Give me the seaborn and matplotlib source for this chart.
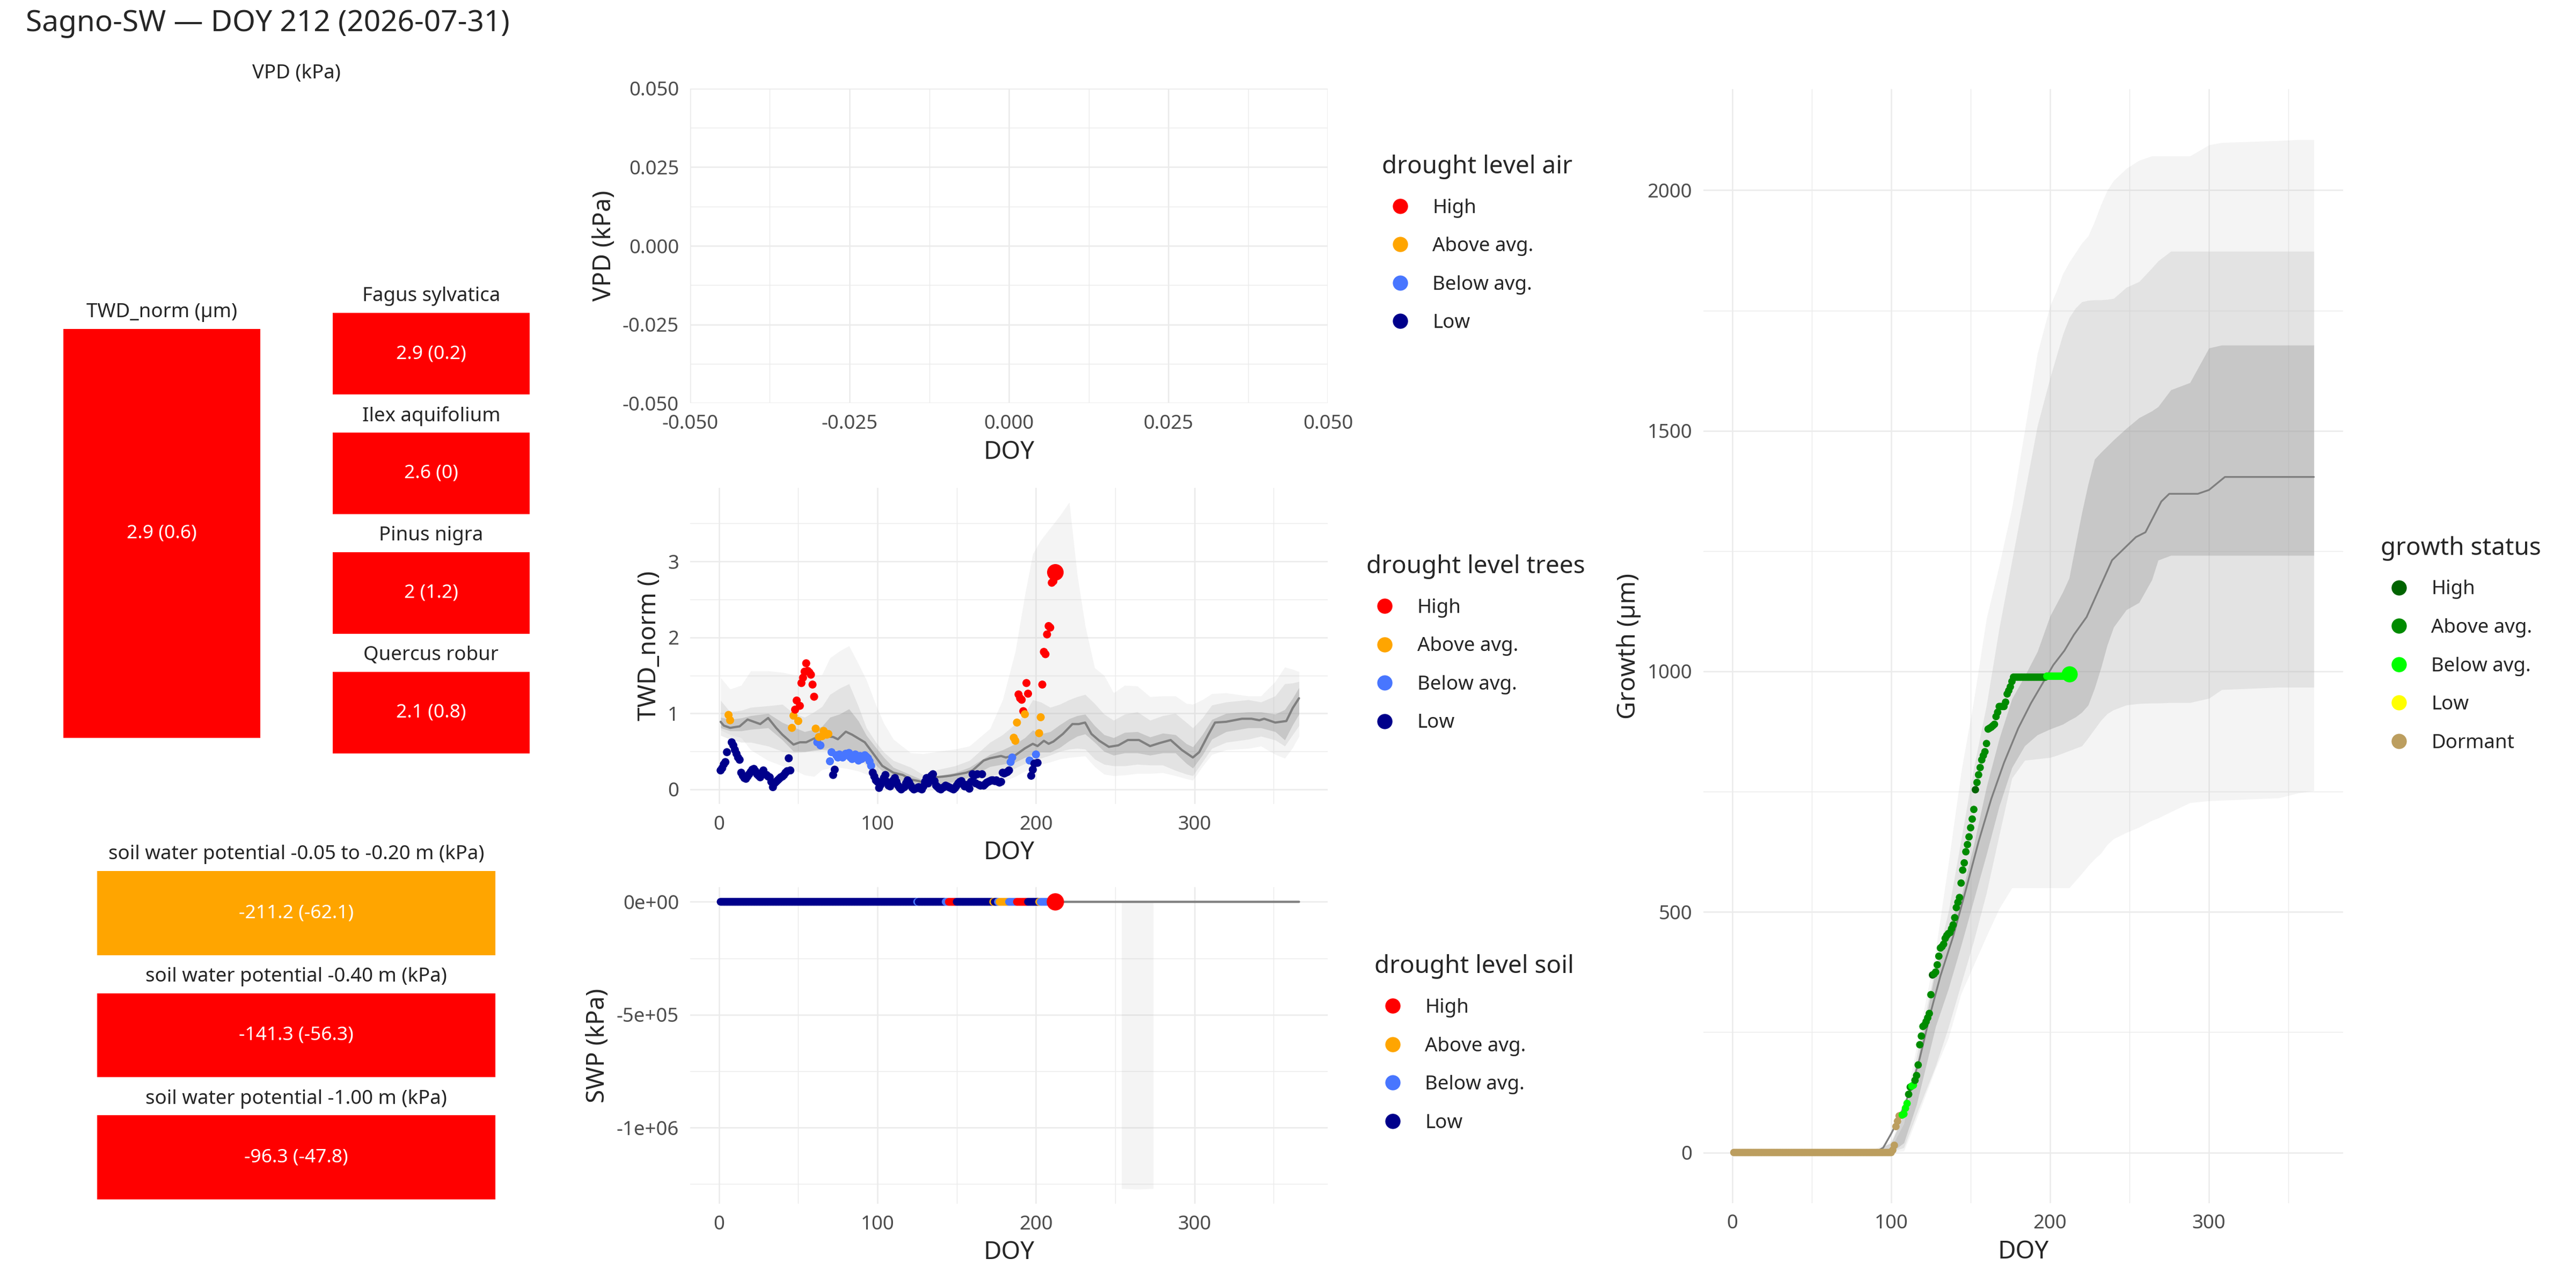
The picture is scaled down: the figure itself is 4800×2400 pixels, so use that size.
import matplotlib
matplotlib.use("Agg")
import matplotlib.pyplot as plt
from matplotlib.lines import Line2D
import seaborn as sns
import pandas as pd

sns.set_theme(style="white")
plt.rcParams['font.family'] = ['Noto Sans', 'DejaVu Sans']

# ---- data ----
title = "Sagno-SW \u2014 DOY 212 (2026-07-31)"

drought_levels = ["High", "Above avg.", "Below avg.", "Low"]
drought_colors = ["#FF0000", "#FFA500", "#4876FF", "#00008B"]
growth_levels = ["High", "Above avg.", "Below avg.", "Low", "Dormant"]
growth_colors = ["#006400", "#008B00", "#00FF00", "#FFFF00", "#BC9E5F"]
code = {"H": "High", "A": "Above avg.", "B": "Below avg.", "L": "Low", "D": "Dormant"}

# summary tiles
twd_now, twd_now_sd, twd_now_level = 2.9, 0.6, "High"
species = ["Fagus sylvatica", "Ilex aquifolium", "Pinus nigra", "Quercus robur"]
species_twd = [2.9, 2.6, 2.0, 2.1]
species_sd = [0.2, 0.0, 1.2, 0.8]
species_level = ["High", "High", "High", "High"]
soil_labels = ["soil water potential -0.05 to -0.20 m (kPa)",
               "soil water potential -0.40 m (kPa)",
               "soil water potential -1.00 m (kPa)"]
soil_vals = [-211.2, -141.3, -96.3]
soil_sd = [-62.1, -56.3, -47.8]
soil_level = ["Above avg.", "High", "High"]

# TWD_norm daily values, DOY 1..212
twd_vals = [
    0.25, 0.28, 0.33, 0.36, 0.49, 0.98, 0.91, 0.62, 0.58, 0.52,
    0.47, 0.42, 0.39, 0.22, 0.18, 0.15, 0.14, 0.17, 0.20, 0.23,
    0.26, 0.27, 0.24, 0.20, 0.18, 0.16, 0.22, 0.25, 0.20, 0.19,
    0.17, 0.16, 0.10, 0.03, 0.08, 0.10, 0.12, 0.14, 0.16, 0.17,
    0.19, 0.22, 0.24, 0.41, 0.25, 0.81, 0.97, 1.05, 1.17, 0.90,
    1.10, 1.40, 1.47, 1.55, 1.66, 1.56, 1.54, 1.51, 1.38, 1.22,
    0.80, 0.62, 0.69, 0.58, 0.70, 0.77, 0.74, 0.72, 0.73, 0.37,
    0.49, 0.19, 0.26, 0.45, 0.42, 0.46, 0.44, 0.42, 0.45, 0.47,
    0.45, 0.48, 0.42, 0.40, 0.44, 0.46, 0.43, 0.38, 0.44, 0.40,
    0.42, 0.45, 0.43, 0.41, 0.37, 0.31, 0.22, 0.17, 0.12, 0.10,
    0.02, 0.06, 0.10, 0.15, 0.19, 0.10, 0.05, 0.04, 0.08, 0.12,
    0.15, 0.10, 0.05, 0.02, 0.00, 0.02, 0.03, 0.08, 0.12, 0.09,
    0.05, 0.02, 0.00, 0.01, 0.02, 0.03, 0.01, 0.00, 0.04, 0.10,
    0.15, 0.08, 0.14, 0.18, 0.20, 0.11, 0.05, 0.03, 0.01, 0.00,
    0.02, 0.03, 0.05, 0.04, 0.03, 0.02, 0.01, 0.00, 0.02, 0.05,
    0.08, 0.10, 0.11, 0.07, 0.04, 0.06, 0.03, 0.01, 0.10, 0.20,
    0.18, 0.08, 0.20, 0.06, 0.05, 0.20, 0.05, 0.07, 0.09, 0.10,
    0.11, 0.12, 0.12, 0.11, 0.12, 0.10, 0.09, 0.10, 0.22, 0.21,
    0.22, 0.23, 0.25, 0.36, 0.42, 0.68, 0.64, 0.88, 1.25, 1.20,
    1.18, 1.03, 0.99, 1.40, 1.26, 0.38, 0.18, 0.26, 0.34, 0.46,
    0.35, 0.74, 0.95, 1.38, 1.81, 1.78, 2.04, 2.15, 2.13, 2.72,
    2.74, 2.86]
twd_level_runs = [("L", 5), ("A", 2), ("L", 38), ("A", 2), ("H", 2), ("A", 1),
                  ("H", 10), ("A", 1), ("B", 1), ("A", 1), ("B", 1), ("A", 5),
                  ("B", 2), ("L", 2), ("B", 23), ("L", 87), ("B", 2), ("A", 3),
                  ("H", 4), ("A", 1), ("H", 2), ("B", 1), ("L", 3), ("B", 1),
                  ("L", 1), ("A", 2), ("H", 9)]

# TWD climatology: median and quantile bands
twd_med_doy = [1, 3, 7, 13, 18, 22, 26, 31, 36, 40, 47, 51, 55, 60, 64, 72, 75, 80,
               84, 92, 97, 103, 110, 116, 121, 126, 129, 133, 137, 142, 146, 151,
               156, 160, 167, 171, 178, 181, 187, 193, 198, 201, 205, 208, 211,
               217, 223, 227, 231, 235, 240, 246, 252, 258, 265, 272, 278, 285,
               292, 299, 303, 309, 313, 320, 330, 336, 341, 344, 351, 358, 362, 366]
twd_med = [0.89, 0.84, 0.81, 0.83, 0.92, 0.89, 0.86, 0.94, 0.81, 0.72, 0.59, 0.62,
           0.62, 0.67, 0.70, 0.69, 0.66, 0.76, 0.72, 0.62, 0.48, 0.31, 0.22, 0.19,
           0.13, 0.11, 0.09, 0.12, 0.16, 0.17, 0.18, 0.20, 0.22, 0.25, 0.38, 0.41,
           0.44, 0.42, 0.45, 0.54, 0.60, 0.57, 0.64, 0.60, 0.63, 0.73, 0.86, 0.86,
           0.88, 0.73, 0.64, 0.56, 0.58, 0.65, 0.65, 0.57, 0.61, 0.65, 0.52, 0.42,
           0.49, 0.73, 0.88, 0.89, 0.93, 0.93, 0.91, 0.93, 0.88, 0.90, 1.07, 1.20]
twd_rib_doy = [1, 7, 14, 20, 31, 40, 47, 54, 60, 65, 70, 76, 82, 88, 93, 99, 104, 110,
               121, 129, 138, 149, 158, 171, 179, 187, 193, 198, 203, 209, 215, 221,
               226, 231, 237, 243, 249, 256, 264, 272, 280, 288, 295, 299, 305, 311,
               320, 334, 342, 351, 357, 362, 366]
twd_outer_hi = [1.47, 1.32, 1.37, 1.56, 1.56, 1.54, 1.51, 1.50, 1.50, 1.51, 1.73, 1.82,
                1.89, 1.65, 1.44, 1.11, 0.87, 0.66, 0.48, 0.47, 0.50, 0.53, 0.57, 0.80,
                1.18, 1.82, 2.56, 3.10, 3.28, 3.44, 3.60, 3.78, 2.83, 2.16, 1.60, 1.50,
                1.27, 1.37, 1.36, 1.22, 1.23, 1.23, 1.13, 1.12, 1.18, 1.26, 1.27, 1.23,
                1.23, 1.42, 1.61, 1.58, 1.55]
twd_outer_lo = [0.78, 0.72, 0.68, 0.52, 0.38, 0.31, 0.26, 0.19, 0.17, 0.26, 0.28, 0.29,
                0.27, 0.24, 0.20, 0.15, 0.05, 0.00, 0.00, 0.00, 0.00, 0.00, 0.00, 0.06,
                0.10, 0.17, 0.24, 0.30, 0.33, 0.36, 0.40, 0.42, 0.43, 0.44, 0.30, 0.20,
                0.18, 0.19, 0.21, 0.21, 0.22, 0.18, 0.14, 0.12, 0.30, 0.46, 0.52, 0.54,
                0.57, 0.46, 0.41, 0.55, 0.70]
twd_mid_hi = [1.17, 1.02, 1.04, 1.08, 1.10, 1.12, 1.00, 0.95, 1.02, 1.09, 1.25, 1.33,
              1.39, 1.09, 0.81, 0.62, 0.49, 0.38, 0.29, 0.19, 0.26, 0.31, 0.38, 0.62,
              0.72, 0.86, 1.00, 1.18, 1.15, 1.08, 1.12, 1.18, 1.22, 1.25, 1.13, 0.99,
              0.91, 0.99, 1.02, 0.91, 0.97, 1.00, 0.88, 0.81, 0.94, 1.11, 1.15, 1.18,
              1.15, 1.23, 1.39, 1.40, 1.42]
twd_mid_lo = [0.71, 0.66, 0.62, 0.62, 0.57, 0.50, 0.48, 0.49, 0.52, 0.53, 0.55, 0.50,
              0.47, 0.43, 0.31, 0.19, 0.15, 0.10, 0.05, 0.02, 0.03, 0.05, 0.11, 0.17,
              0.22, 0.28, 0.34, 0.38, 0.41, 0.45, 0.50, 0.53, 0.54, 0.53, 0.40, 0.33,
              0.31, 0.31, 0.33, 0.32, 0.32, 0.25, 0.20, 0.18, 0.36, 0.54, 0.62, 0.66,
              0.70, 0.65, 0.57, 0.72, 0.84]
twd_in_hi = [0.95, 0.92, 0.94, 0.97, 1.00, 0.88, 0.82, 0.76, 0.79, 0.83, 0.95, 0.99,
             1.06, 0.90, 0.71, 0.55, 0.42, 0.29, 0.19, 0.12, 0.18, 0.22, 0.29, 0.46,
             0.52, 0.60, 0.68, 0.78, 0.73, 0.76, 0.85, 0.93, 0.97, 0.99, 0.84, 0.72,
             0.68, 0.75, 0.76, 0.69, 0.74, 0.72, 0.60, 0.56, 0.72, 0.92, 1.00, 1.02,
             1.02, 0.99, 1.05, 1.20, 1.34]
twd_in_lo = [0.81, 0.77, 0.77, 0.79, 0.81, 0.65, 0.50, 0.50, 0.51, 0.52, 0.51, 0.50,
             0.50, 0.49, 0.44, 0.32, 0.22, 0.15, 0.08, 0.04, 0.07, 0.10, 0.16, 0.30,
             0.33, 0.36, 0.42, 0.46, 0.49, 0.49, 0.55, 0.64, 0.70, 0.73, 0.62, 0.50,
             0.45, 0.48, 0.48, 0.45, 0.48, 0.48, 0.34, 0.28, 0.45, 0.66, 0.76, 0.81,
             0.81, 0.76, 0.65, 0.85, 0.99]

# soil water potential (kPa): level runs over DOY 1..212 with a value per run
swp_runs = [(1, 124, "L"), (125, 125, "B"), (126, 142, "L"), (143, 144, "B"),
            (145, 149, "H"), (150, 172, "L"), (173, 173, "A"), (174, 175, "L"),
            (176, 176, "B"), (177, 182, "A"), (183, 187, "B"), (188, 194, "H"),
            (195, 201, "L"), (202, 202, "A"), (203, 211, "B"), (212, 212, "H")]
swp_run_vals = [-35, -60, -48, -95, -180, -70, -130, -85, -110, -140, -120, -200,
                -90, -150, -125, -211.2]
swp_med_doy = [1, 60, 120, 180, 240, 300, 366]
swp_med = [-40, -35, -50, -120, -150, -90, -45]
swp_rib_doy = [254, 264, 274]
swp_rib_lo = [-1270000, -1273000, -1270000]
swp_rib_hi = [-300, -300, -300]

# growth (um)
growth_flat_runs = [(1, 100, 0, "D"), (178, 197, 988, "A"), (198, 211, 990, "B")]
growth_rise_start = 101
growth_rise = [5, 15, 54, 65, 76, 77, 78, 80, 92, 102,
               121, 136, 138, 140, 150, 160, 182, 224, 242, 262,
               265, 272, 280, 289, 328, 369, 371, 375, 390, 408,
               425, 428, 433, 445, 451, 455, 457, 465, 473, 488,
               509, 520, 530, 560, 587, 602, 625, 640, 656, 675,
               693, 713, 754, 769, 785, 800, 816, 825, 833, 850,
               880, 882, 884, 887, 890, 906, 915, 927, 927, 927,
               927, 936, 953, 960, 968, 979, 988]
growth_rise_runs = [("D", 6), ("B", 4), ("A", 2), ("B", 2), ("A", 11), ("H", 1),
                    ("A", 26), ("H", 1), ("A", 24)]
growth_now = (212, 994, "B")
g_med_doy = [1, 90, 95, 100, 105, 112, 118, 125, 131, 139, 147, 155, 163, 171, 180,
             188, 196, 202, 209, 215, 223, 228, 239, 254, 260, 270, 275, 293, 300,
             310, 366]
g_med = [0, 0, 10, 39, 72, 128, 196, 293, 367, 449, 546, 646, 735, 810, 882, 934,
         979, 1013, 1043, 1076, 1113, 1150, 1231, 1279, 1289, 1353, 1369, 1369, 1377,
         1404, 1404]
g_rib_doy = [1, 90, 100, 108, 116, 128, 136, 144, 152, 160, 168, 176, 184, 192, 200,
             204, 208, 212, 216, 220, 224, 228, 232, 236, 240, 248, 256, 264, 268, 276,
             288, 300, 308, 344, 356, 366]
g_outer_hi = [0, 8, 25, 90, 220, 420, 600, 790, 940, 1110, 1220, 1340, 1500, 1660,
              1760, 1790, 1826, 1850, 1870, 1890, 1905, 1935, 1970, 2000, 2020, 2045,
              2062, 2071, 2071, 2071, 2071, 2094, 2099, 2103, 2105, 2105]
g_outer_lo = [0, 0, 0, 3, 70, 175, 238, 330, 390, 450, 507, 550, 550, 550, 550, 550,
              550, 550, 565, 580, 596, 610, 622, 640, 652, 665, 676, 690, 695, 708,
              727, 731, 732, 737, 747, 752]
g_mid_hi = [0, 3, 10, 60, 200, 390, 500, 650, 800, 930, 1090, 1230, 1370, 1510, 1610,
            1655, 1700, 1735, 1755, 1768, 1771, 1772, 1772, 1773, 1775, 1798, 1810,
            1838, 1853, 1873, 1873, 1873, 1873, 1873, 1873, 1873]
g_mid_lo = [0, 0, 2, 10, 80, 180, 260, 350, 440, 540, 660, 778, 815, 818, 821, 825,
            830, 835, 840, 845, 862, 880, 898, 912, 920, 930, 933, 934, 934, 935, 935,
            944, 962, 967, 967, 967]
g_in_hi = [0, 5, 20, 80, 180, 380, 470, 530, 640, 760, 860, 943, 990, 1041, 1115,
           1140, 1165, 1194, 1263, 1330, 1390, 1441, 1455, 1468, 1481, 1505, 1527,
           1541, 1550, 1585, 1600, 1672, 1678, 1678, 1678, 1678]
g_in_lo = [0, 0, 0, 20, 100, 262, 340, 430, 525, 620, 720, 800, 845, 868, 880, 885,
           890, 898, 905, 915, 930, 965, 1007, 1055, 1092, 1128, 1143, 1190, 1231,
           1241, 1241, 1241, 1241, 1241, 1241, 1241]


def expand(runs):
    out = []
    for c, n in runs:
        out += [code[c]] * n
    return out


def fmt(v):
    return f"{v:g}"


twd = pd.DataFrame({"doy": range(1, len(twd_vals) + 1), "twd": twd_vals,
                    "level": expand(twd_level_runs)})

swp_rows = []
for (a, b, c), v in zip(swp_runs, swp_run_vals):
    for d in range(a, b + 1):
        swp_rows.append((d, v, code[c]))
swp = pd.DataFrame(swp_rows, columns=["doy", "swp", "level"])

g_rows = []
for a, b, v, c in growth_flat_runs:
    for d in range(a, b + 1):
        g_rows.append((d, v, code[c]))
for i, (v, c) in enumerate(zip(growth_rise, expand(growth_rise_runs))):
    g_rows.append((growth_rise_start + i, v, c))
g_rows.append((growth_now[0], growth_now[1], code[growth_now[2]]))
growth = pd.DataFrame(g_rows, columns=["doy", "growth", "level"]).sort_values("doy")

dpal = dict(zip(drought_levels, drought_colors))
gpal = dict(zip(growth_levels, growth_colors))

# ---- figure ----
fig = plt.figure(figsize=(16, 8), dpi=300)
fig.patch.set_facecolor("white")
GRID = "#EBEBEB"
XLIM = (-18.25, 384.25)


def style(ax, xlim, ylim, xt, xm, yt, ym, xlabel, ylabel, ytl=None, xtl=None):
    ax.set_facecolor("white")
    ax.set_xlim(xlim)
    ax.set_ylim(ylim)
    ax.set_xticks(xt)
    ax.set_xticks(xm, minor=True)
    ax.set_yticks(yt)
    ax.set_yticks(ym, minor=True)
    if ytl is not None:
        ax.set_yticklabels(ytl)
    if xtl is not None:
        ax.set_xticklabels(xtl)
    ax.grid(which="major", color=GRID, lw=0.6)
    ax.grid(which="minor", color=GRID, lw=0.35)
    ax.set_axisbelow(True)
    for s in ax.spines.values():
        s.set_visible(False)
    ax.tick_params(which="both", length=0, pad=5, labelsize=8.8, labelcolor="#4D4D4D")
    ax.set_xlabel(xlabel, fontsize=11, labelpad=2.75)
    ax.set_ylabel(ylabel, fontsize=11, labelpad=2.75)


def legend(title_txt, levels, colors, x, y):
    handles = [Line2D([], [], marker="o", ls="", color=c, markersize=5.8) for c in colors]
    fig.legend(handles, levels, title=title_txt, loc="upper left",
               bbox_to_anchor=(x, y), bbox_transform=fig.transFigure, frameon=False,
               fontsize=8.8, title_fontsize=11, alignment="left", handlelength=1.85,
               handletextpad=0.72, labelspacing=0.97, borderpad=0, borderaxespad=0)


def bands(ax, x, lo1, hi1, lo2, hi2, lo3, hi3):
    ax.fill_between(x, lo1, hi1, color="#BEBEBE", alpha=0.17, lw=0, zorder=1)
    ax.fill_between(x, lo2, hi2, color="#BEBEBE", alpha=0.30, lw=0, zorder=1.1)
    ax.fill_between(x, lo3, hi3, color="#808080", alpha=0.28, lw=0, zorder=1.2)


# ---- summary tiles ----
fig.text(0.0099, 0.982, title, fontsize=13.2, ha="left", va="center")
fig.text(0.115, 0.9429, "VPD (kPa)", fontsize=8.8, ha="center", va="center")


def tile(rect, label, text, level):
    ax = fig.add_axes(rect)
    ax.bar([0], [1], width=1.0, color=dpal[level], lw=0)
    ax.set_xlim(-0.5, 0.5)
    ax.set_ylim(0, 1)
    ax.axis("off")
    ax.text(0, 0.5, text, color="white", fontsize=8.5, ha="center", va="center")
    x0, y0, w, h = rect
    fig.text(x0 + w / 2, y0 + h + 0.0128, label, fontsize=8.8, ha="center", va="center")


tile([0.02455, 0.4271, 0.07655, 0.3175], "TWD_norm (\u00b5m)",
     f"{fmt(twd_now)} ({fmt(twd_now_sd)})", twd_now_level)
sp_bottoms = [0.6937, 0.6009, 0.5080, 0.4151]
for name, v, sd, lv, b in zip(species, species_twd, species_sd, species_level, sp_bottoms):
    tile([0.1291, b, 0.07655, 0.0633], name, f"{fmt(v)} ({fmt(sd)})", lv)
soil_bottoms = [0.2585, 0.1637, 0.0688]
for name, v, sd, lv, b in zip(soil_labels, soil_vals, soil_sd, soil_level, soil_bottoms):
    tile([0.0377, b, 0.1546, 0.0652], name, f"{fmt(v)} ({fmt(sd)})", lv)

# ---- VPD panel (no data) ----
ax_vpd = fig.add_axes([0.2679, 0.6869, 0.2476, 0.2445])
vt = [-0.05, -0.025, 0.0, 0.025, 0.05]
vm = [-0.0375, -0.0125, 0.0125, 0.0375]
vtl = ["-0.050", "-0.025", "0.000", "0.025", "0.050"]
style(ax_vpd, (-0.05, 0.05), (-0.05, 0.05), vt, vm, vt, vm, "DOY", "VPD (kPa)",
      ytl=vtl, xtl=vtl)
legend("drought level air", drought_levels, drought_colors, 0.5365, 0.8800)

doy_major = [0, 100, 200, 300]
doy_minor = [50, 150, 250, 350]

# ---- TWD panel ----
ax_twd = fig.add_axes([0.2679, 0.3759, 0.2476, 0.2454])
bands(ax_twd, twd_rib_doy, twd_outer_lo, twd_outer_hi, twd_mid_lo, twd_mid_hi,
      twd_in_lo, twd_in_hi)
sns.lineplot(x=twd_med_doy, y=twd_med, color="#7F7F7F", lw=1.0, ax=ax_twd, zorder=2)
sns.scatterplot(data=twd, x="doy", y="twd", hue="level", palette=dpal,
                hue_order=drought_levels, s=13, linewidth=0, legend=False,
                ax=ax_twd, zorder=3)
last = twd.iloc[-1]
ax_twd.scatter([last["doy"]], [last["twd"]], s=55, color=dpal[last["level"]],
               linewidth=0, zorder=4)
style(ax_twd, XLIM, (-0.19, 3.97), doy_major, doy_minor, [0, 1, 2, 3],
      [0.5, 1.5, 2.5, 3.5], "DOY", "TWD_norm ()")
legend("drought level trees", drought_levels, drought_colors, 0.5305, 0.5695)

# ---- SWP panel ----
ax_swp = fig.add_axes([0.2679, 0.06546, 0.2476, 0.2456])
ax_swp.fill_between(swp_rib_doy, swp_rib_lo, swp_rib_hi, color="#BEBEBE", alpha=0.17,
                    lw=0, zorder=1)
sns.lineplot(x=swp_med_doy, y=swp_med, color="#7F7F7F", lw=1.0, ax=ax_swp, zorder=2)
sns.scatterplot(data=swp, x="doy", y="swp", hue="level", palette=dpal,
                hue_order=drought_levels, s=12, linewidth=0, legend=False,
                ax=ax_swp, zorder=3)
last = swp.iloc[-1]
ax_swp.scatter([last["doy"]], [last["swp"]], s=60, color=dpal[last["level"]],
               linewidth=0, zorder=4)
style(ax_swp, XLIM, (-1337000, 64000), doy_major, doy_minor, [0, -500000, -1000000],
      [-250000, -750000, -1250000], "DOY", "SWP (kPa)",
      ytl=["0e+00", "-5e+05", "-1e+06"])
legend("drought level soil", drought_levels, drought_colors, 0.5335, 0.2590)

# ---- growth panel ----
ax_g = fig.add_axes([0.6612, 0.06598, 0.2483, 0.8648])
bands(ax_g, g_rib_doy, g_outer_lo, g_outer_hi, g_mid_lo, g_mid_hi, g_in_lo, g_in_hi)
sns.lineplot(x=g_med_doy, y=g_med, color="#7F7F7F", lw=0.8, ax=ax_g, zorder=2)
sns.scatterplot(data=growth, x="doy", y="growth", hue="level", palette=gpal,
                hue_order=growth_levels, s=11, linewidth=0, legend=False,
                ax=ax_g, zorder=3)
ax_g.scatter([growth_now[0]], [growth_now[1]], s=52, color=gpal[code[growth_now[2]]],
             linewidth=0, zorder=4)
style(ax_g, XLIM, (-105, 2210), doy_major, doy_minor, [0, 500, 1000, 1500, 2000],
      [250, 750, 1250, 1750], "DOY", "Growth (\u00b5m)")
legend("growth status", growth_levels, growth_colors, 0.9242, 0.5838)

fig.savefig("out.png", dpi=300)
